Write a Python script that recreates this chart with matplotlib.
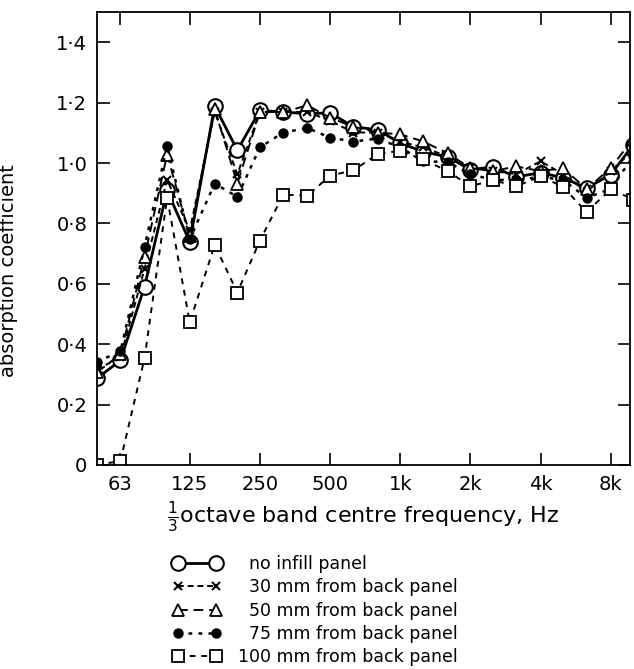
import numpy as np
import matplotlib
matplotlib.use("Agg")
import matplotlib.pyplot as plt

plt.rcParams['font.family'] = ['DejaVu Sans']
plt.rcParams['mathtext.fontset'] = 'dejavusans'

# one-third octave band centre frequencies, Hz
freqs = [50, 63, 80, 100, 125, 160, 200, 250, 315, 400, 500, 630, 800,
         1000, 1250, 1600, 2000, 2500, 3150, 4000, 5000, 6300, 8000, 10000]

no_infill = [0.287, 0.346, 0.591, 0.909, 0.738, 1.189, 1.042, 1.174, 1.169, 1.163, 1.166, 1.120,
             1.110, 1.066, 1.038, 1.020, 0.978, 0.987, 0.954, 0.968, 0.951, 0.917, 0.961, 1.061]
mm30 = [0.317, 0.356, 0.650, 0.944, 0.777, 1.169, 0.963, 1.169, 1.169, 1.169, 1.140, 1.101,
        1.101, 1.071, 1.052, 1.022, 0.983, 0.973, 0.963, 1.006, 0.963, 0.905, 0.973, 1.042]
mm50 = [0.307, 0.366, 0.689, 1.028, 0.758, 1.179, 0.932, 1.169, 1.169, 1.191, 1.150, 1.120,
        1.101, 1.095, 1.072, 1.032, 0.983, 0.973, 0.989, 0.973, 0.983, 0.914, 0.983, 1.081]
mm75 = [0.342, 0.376, 0.723, 1.056, 0.748, 0.932, 0.888, 1.052, 1.101, 1.116, 1.084, 1.071,
        1.081, 1.052, 1.006, 1.003, 0.963, 0.944, 0.944, 0.954, 0.944, 0.885, 0.914, 1.022]
mm100 = [0.0, 0.013, 0.354, 0.885, 0.472, 0.729, 0.571, 0.743, 0.895, 0.892, 0.958, 0.976,
         1.029, 1.041, 1.012, 0.973, 0.923, 0.943, 0.923, 0.956, 0.921, 0.837, 0.914, 0.879]

xticks = [63, 125, 250, 500, 1000, 2000, 4000, 8000]
xticklabels = ['63', '125', '250', '500', '1k', '2k', '4k', '8k']
yticks = [0, 0.2, 0.4, 0.6, 0.8, 1.0, 1.2, 1.4]
yticklabels = ['0', '0·2', '0·4', '0·6', '0·8', '1·0', '1·2', '1·4']

fs = '\u2007'  # figure space, keeps the numbers right-aligned in the key
series = [
    (no_infill, dict(ls='-', lw=2.0, marker='o', ms=10.5, mfc='white', mew=1.5), fs + 'no infill panel'),
    (mm30, dict(ls=(0, (3, 2)), lw=1.4, marker='x', ms=6, mew=1.5), fs + '30 mm from back panel'),
    (mm50, dict(ls=(0, (5, 3)), lw=1.4, marker='^', ms=8, mfc='white', mew=1.3), fs + '50 mm from back panel'),
    (mm75, dict(ls=(0, (1.5, 2.5)), lw=1.8, marker='o', ms=6.5, mfc='black'), fs + '75 mm from back panel'),
    (mm100, dict(ls=(0, (3, 3)), lw=1.4, marker='s', ms=8, mfc='white', mew=1.3), '100 mm from back panel'),
]

fig = plt.figure(figsize=(6.34, 6.69), dpi=100)
ax = fig.add_axes([0.153, 0.305, 0.841, 0.677])

handles = []
for vals, style, label in series:
    h, = ax.plot(freqs, vals, color='black', mec='black', label=label, **style)
    handles.append(h)

ax.set_xscale('log')
ax.set_xlim(50, 9700)
ax.set_ylim(0, 1.5)
ax.set_xticks(xticks)
ax.set_xticklabels(xticklabels)
ax.minorticks_off()
ax.set_yticks(yticks)
ax.set_yticklabels(yticklabels)
ax.tick_params(direction='in', length=9, width=1.2, labelsize=14,
               top=True, right=True, pad=7)
for s in ax.spines.values():
    s.set_linewidth(1.3)

ax.set_ylabel('absorption coefficient', fontsize=14)
ax.yaxis.set_label_coords(-0.148, 0.43)
ax.set_xlabel(r'$\frac{1}{3}$octave band centre frequency, Hz', fontsize=16, labelpad=4)

fig.legend(handles=handles, loc='upper left', bbox_to_anchor=(0.272, 0.17),
           frameon=False, numpoints=2, handlelength=2.8, handletextpad=1.0,
           fontsize=12.5, labelspacing=0.3, borderpad=0, borderaxespad=0)

fig.savefig('out.png', dpi=100)
